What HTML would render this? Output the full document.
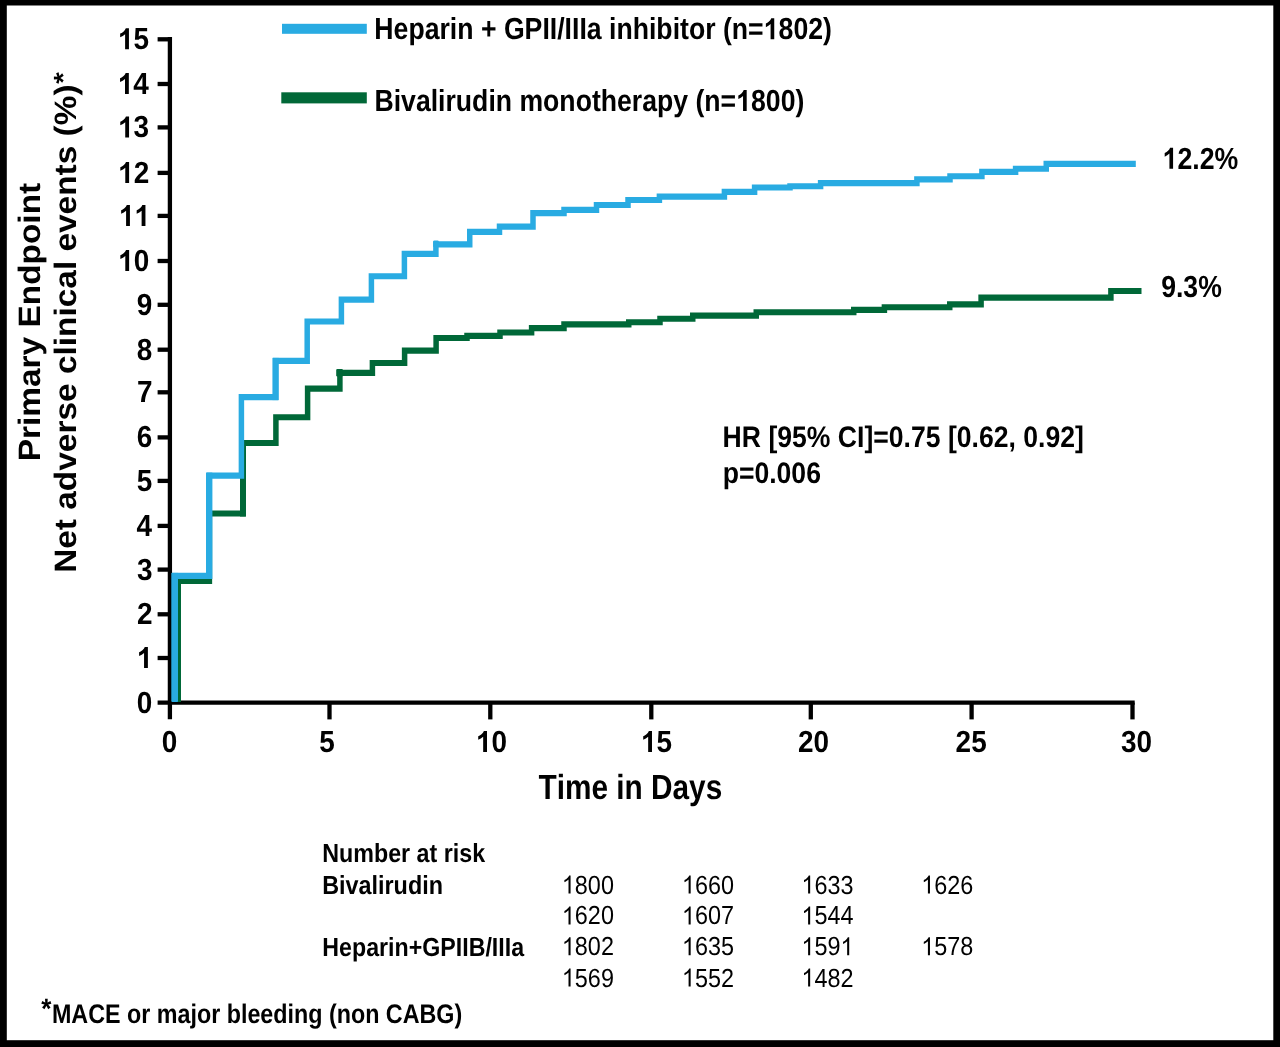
<!DOCTYPE html>
<html><head><meta charset="utf-8"><title>Primary Endpoint - Net adverse clinical events</title>
<style>
html,body{margin:0;padding:0;background:#fff;}
body{width:1280px;height:1047px;overflow:hidden;}
svg{display:block;}
svg text{font-family:"Liberation Sans",sans-serif;fill:#000;font-kerning:none;text-rendering:geometricPrecision;}
</style></head><body>
<svg width="1280" height="1047" viewBox="0 0 1280 1047">
<rect x="0" y="0" width="1280" height="1047" fill="#000"/>
<rect x="6.8" y="5.5" width="1266.50" height="1034.70" fill="#fff"/>
<g stroke="#000" stroke-width="4.30" fill="none" stroke-linecap="butt">
<path d="M169.90 37.10 V719.20"/>
<path d="M157.60 702.60 H1134.70"/>
<path d="M157.6 658.00 H170"/>
<path d="M157.6 614.30 H170"/>
<path d="M157.6 569.60 H170"/>
<path d="M157.6 525.90 H170"/>
<path d="M157.6 480.90 H170"/>
<path d="M157.6 437.40 H170"/>
<path d="M157.6 392.30 H170"/>
<path d="M157.6 349.70 H170"/>
<path d="M157.6 304.80 H170"/>
<path d="M157.6 261.00 H170"/>
<path d="M157.6 215.90 H170"/>
<path d="M157.6 172.90 H170"/>
<path d="M157.6 127.40 H170"/>
<path d="M157.6 84.00 H170"/>
<path d="M157.6 39.30 H170"/>
<path d="M329.50 702.60 V719.4"/>
<path d="M490.30 702.60 V719.4"/>
<path d="M651.30 702.60 V719.4"/>
<path d="M810.80 702.60 V719.4"/>
<path d="M971.60 702.60 V719.4"/>
<path d="M1132.50 702.60 V719.4"/>
</g>
<g transform="scale(0.900,1)" fill="none" stroke-width="6.1" stroke-linejoin="miter" stroke-linecap="butt">
<path d="M197.78 702.00 L197.78 581.00 L232.67 581.00 L232.67 513.50 L270.00 513.50 L270.00 443.00 L306.56 443.00 L306.56 417.25 L341.78 417.25 L341.78 388.60 L377.67 388.60 L377.67 372.90 L413.78 372.90 L413.78 363.00 L449.56 363.00 L449.56 350.60 L484.56 350.60 L484.56 338.00 L518.89 338.00 L518.89 335.90 L555.56 335.90 L555.56 332.50 L590.67 332.50 L590.67 328.10 L626.67 328.10 L626.67 324.40 L698.61 324.40 L698.61 322.25 L733.33 322.25 L733.33 318.75 L769.72 318.75 L769.72 315.60 L840.28 315.60 L840.28 312.20 L948.61 312.20 L948.61 309.90 L982.67 309.90 L982.67 307.25 L1055.28 307.25 L1055.28 304.40 L1090.11 304.40 L1090.11 297.60 L1234.33 297.60 L1234.33 291.00 L1268.33 291.00" stroke="#006838"/>
</g>
<rect x="175.2" y="578.1" width="5.8" height="123.5" fill="#006838"/>
<rect x="336.2" y="368.9" width="6.7" height="7.6" rx="1.2" fill="#006838"/>
<rect x="240" y="440.1" width="6" height="76.4" fill="#006838"/>
<g transform="scale(0.900,1)" fill="none" stroke-width="6.1" stroke-linejoin="miter" stroke-linecap="butt">
<path d="M194.17 702.00 L194.17 575.90 L232.67 575.90 L232.67 475.60 L268.22 475.60 L268.22 397.10 L306.22 397.10 L306.22 360.90 L341.33 360.90 L341.33 321.50 L379.33 321.50 L379.33 299.60 L412.67 299.60 L412.67 276.25 L449.33 276.25 L449.33 253.90 L484.33 253.90 L484.33 244.40 L521.94 244.40 L521.94 231.90 L555.00 231.90 L555.00 226.60 L592.22 226.60 L592.22 213.10 L626.67 213.10 L626.67 209.90 L662.78 209.90 L662.78 205.00 L697.78 205.00 L697.78 200.00 L732.67 200.00 L732.67 196.60 L804.89 196.60 L804.89 191.90 L838.44 191.90 L838.44 187.50 L877.78 187.50 L877.78 186.30 L911.78 186.30 L911.78 183.10 L1018.78 183.10 L1018.78 179.40 L1055.56 179.40 L1055.56 176.25 L1091.00 176.25 L1091.00 171.90 L1128.44 171.90 L1128.44 168.75 L1162.50 168.75 L1162.50 163.90 L1262.00 163.90" stroke="#29abe2"/>
</g>
<rect x="171.3" y="572.9" width="6.7" height="128.7" fill="#29abe2"/>
<rect x="433.2" y="240.5" width="5.6" height="6.6" rx="1.2" fill="#29abe2"/>
<rect x="206" y="472.6" width="6.3" height="106.3" fill="#29abe2"/>
<rect x="272.5" y="357.9" width="6.2" height="42.2" fill="#29abe2"/>
<g id="txt" opacity="0.999">
<rect x="282" y="23.8" width="84.8" height="10" fill="#29abe2"/>
<rect x="281.3" y="92.3" width="85.5" height="11.1" fill="#006838"/>
<g transform="translate(374.32,39.20) scale(0.8731,1)" font-size="30.52" font-weight="bold"><text x="0.000">Heparin + GPII/IIIa inhibitor (n=</text><path transform="translate(446.045,0) scale(0.01490,-0.01427)" d="M806 0H525V1059Q371 915 162 846V1101Q272 1137 401 1237.5T578 1472H806Z"/><text x="463.021">802)</text></g>
<g transform="translate(374.47,111.10) scale(0.8724,1)" font-size="30.52" font-weight="bold"><text x="0.000">Bivalirudin monotherapy (n=</text><path transform="translate(414.657,0) scale(0.01490,-0.01427)" d="M806 0H525V1059Q371 915 162 846V1101Q272 1137 401 1237.5T578 1472H806Z"/><text x="431.633">800)</text></g>
<g transform="translate(117.95,49.30) scale(0.9150,1)" font-size="30.52" font-weight="bold"><path transform="translate(0.000,0) scale(0.01490,-0.01427)" d="M806 0H525V1059Q371 915 162 846V1101Q272 1137 401 1237.5T578 1472H806Z"/><text x="16.976">5</text></g>
<g transform="translate(117.84,94.00) scale(0.9150,1)" font-size="30.52" font-weight="bold"><path transform="translate(0.000,0) scale(0.01490,-0.01427)" d="M806 0H525V1059Q371 915 162 846V1101Q272 1137 401 1237.5T578 1472H806Z"/><text x="16.976">4</text></g>
<g transform="translate(118.07,137.40) scale(0.9150,1)" font-size="30.52" font-weight="bold"><path transform="translate(0.000,0) scale(0.01490,-0.01427)" d="M806 0H525V1059Q371 915 162 846V1101Q272 1137 401 1237.5T578 1472H806Z"/><text x="16.976">3</text></g>
<g transform="translate(118.12,182.90) scale(0.9150,1)" font-size="30.52" font-weight="bold"><path transform="translate(0.000,0) scale(0.01490,-0.01427)" d="M806 0H525V1059Q371 915 162 846V1101Q272 1137 401 1237.5T578 1472H806Z"/><text x="16.976">2</text></g>
<g transform="translate(118.93,225.90) scale(0.9150,1)" font-size="30.52" font-weight="bold"><path transform="translate(0.000,0) scale(0.01490,-0.01427)" d="M806 0H525V1059Q371 915 162 846V1101Q272 1137 401 1237.5T578 1472H806Z"/><path transform="translate(16.976,0) scale(0.01490,-0.01427)" d="M806 0H525V1059Q371 915 162 846V1101Q272 1137 401 1237.5T578 1472H806Z"/></g>
<g transform="translate(118.14,271.00) scale(0.9150,1)" font-size="30.52" font-weight="bold"><path transform="translate(0.000,0) scale(0.01490,-0.01427)" d="M806 0H525V1059Q371 915 162 846V1101Q272 1137 401 1237.5T578 1472H806Z"/><text x="16.976">0</text></g>
<g transform="translate(136.77,314.80) scale(0.9150,1)" font-size="30.52" font-weight="bold"><text x="0.000">9</text></g>
<g transform="translate(136.72,359.70) scale(0.9150,1)" font-size="30.52" font-weight="bold"><text x="0.000">8</text></g>
<g transform="translate(136.90,402.30) scale(0.9150,1)" font-size="30.52" font-weight="bold"><text x="0.000">7</text></g>
<g transform="translate(136.73,447.40) scale(0.9150,1)" font-size="30.52" font-weight="bold"><text x="0.000">6</text></g>
<g transform="translate(136.69,490.90) scale(0.9150,1)" font-size="30.52" font-weight="bold"><text x="0.000">5</text></g>
<g transform="translate(136.60,535.90) scale(0.9150,1)" font-size="30.52" font-weight="bold"><text x="0.000">4</text></g>
<g transform="translate(136.92,579.60) scale(0.9150,1)" font-size="30.52" font-weight="bold"><text x="0.000">3</text></g>
<g transform="translate(136.96,624.30) scale(0.9150,1)" font-size="30.52" font-weight="bold"><text x="0.000">2</text></g>
<g transform="translate(136.90,668.00) scale(0.9150,1)" font-size="30.52" font-weight="bold"><path transform="translate(0.000,0) scale(0.01490,-0.01427)" d="M806 0H525V1059Q371 915 162 846V1101Q272 1137 401 1237.5T578 1472H806Z"/></g>
<g transform="translate(136.75,712.60) scale(0.9150,1)" font-size="30.52" font-weight="bold"><text x="0.000">0</text></g>
<g transform="translate(161.80,751.90) scale(0.9150,1)" font-size="30.52" font-weight="bold"><text x="0.000">0</text></g>
<g transform="translate(319.24,751.90) scale(0.9150,1)" font-size="30.52" font-weight="bold"><text x="0.000">5</text></g>
<g transform="translate(476.01,751.90) scale(0.9150,1)" font-size="30.52" font-weight="bold"><path transform="translate(0.000,0) scale(0.01490,-0.01427)" d="M806 0H525V1059Q371 915 162 846V1101Q272 1137 401 1237.5T578 1472H806Z"/><text x="16.976">0</text></g>
<g transform="translate(641.00,751.90) scale(0.9150,1)" font-size="30.52" font-weight="bold"><path transform="translate(0.000,0) scale(0.01490,-0.01427)" d="M806 0H525V1059Q371 915 162 846V1101Q272 1137 401 1237.5T578 1472H806Z"/><text x="16.976">5</text></g>
<g transform="translate(797.91,751.90) scale(0.9150,1)" font-size="30.52" font-weight="bold"><text x="0.000">20</text></g>
<g transform="translate(955.62,751.90) scale(0.9150,1)" font-size="30.52" font-weight="bold"><text x="0.000">25</text></g>
<g transform="translate(1120.92,751.90) scale(0.9150,1)" font-size="30.52" font-weight="bold"><text x="0.000">30</text></g>
<g transform="translate(538.47,799.40) scale(0.8508,1)" font-size="35.03" font-weight="bold"><text x="0.000">Time in Days</text></g>
<g transform="translate(40.10,461.23) rotate(-90) scale(1.0791,1)" font-size="30.96" font-weight="bold"><text x="0.000">Primary Endpoint</text></g>
<g transform="translate(75.80,572.84) rotate(-90) scale(1.0794,1)" font-size="30.96" font-weight="bold"><text x="0.000">Net adverse clinical events (%)</text></g>
<text transform="translate(72.2,83.75) rotate(-90) scale(1.12,1)" font-size="26.3" font-weight="bold">*</text>
<g transform="translate(1162.59,168.70) scale(0.8737,1)" font-size="30.52" font-weight="bold"><path transform="translate(0.000,0) scale(0.01490,-0.01427)" d="M806 0H525V1059Q371 915 162 846V1101Q272 1137 401 1237.5T578 1472H806Z"/><text x="16.976">2.2%</text></g>
<g transform="translate(1161.18,296.70) scale(0.8714,1)" font-size="30.52" font-weight="bold"><text x="0.000">9.3%</text></g>
<g transform="translate(722.62,446.90) scale(0.8968,1)" font-size="29.65" font-weight="bold"><text x="0.000">HR [95% CI]=0.75 [0.62, 0.92]</text></g>
<g transform="translate(722.65,482.50) scale(0.8968,1)" font-size="29.65" font-weight="bold"><text x="0.000">p=0.006</text></g>
<g transform="translate(322.19,862.10) scale(0.8899,1)" font-size="26.16" font-weight="bold"><text x="0.000">Number at risk</text></g>
<g transform="translate(322.19,893.50) scale(0.8932,1)" font-size="26.16" font-weight="bold"><text x="0.000">Bivalirudin</text></g>
<g transform="translate(322.35,955.60) scale(0.8869,1)" font-size="26.16" font-weight="bold"><text x="0.000">Heparin+GPIIB/IIIa</text></g>
<g transform="translate(561.85,893.60) scale(0.8945,1)" font-size="26.16" font-weight="normal"><path transform="translate(0.000,0) scale(0.01277,-0.01223)" d="M763 0H583V1147Q518 1085 412.5 1023T223 930V1104Q373 1174.5 485.25 1274.75T644 1472H763Z"/><text x="14.550">800</text></g>
<g transform="translate(681.95,893.60) scale(0.8945,1)" font-size="26.16" font-weight="normal"><path transform="translate(0.000,0) scale(0.01277,-0.01223)" d="M763 0H583V1147Q518 1085 412.5 1023T223 930V1104Q373 1174.5 485.25 1274.75T644 1472H763Z"/><text x="14.550">660</text></g>
<g transform="translate(801.45,893.60) scale(0.8945,1)" font-size="26.16" font-weight="normal"><path transform="translate(0.000,0) scale(0.01277,-0.01223)" d="M763 0H583V1147Q518 1085 412.5 1023T223 930V1104Q373 1174.5 485.25 1274.75T644 1472H763Z"/><text x="14.550">633</text></g>
<g transform="translate(921.25,893.60) scale(0.8945,1)" font-size="26.16" font-weight="normal"><path transform="translate(0.000,0) scale(0.01277,-0.01223)" d="M763 0H583V1147Q518 1085 412.5 1023T223 930V1104Q373 1174.5 485.25 1274.75T644 1472H763Z"/><text x="14.550">626</text></g>
<g transform="translate(561.85,924.40) scale(0.8945,1)" font-size="26.16" font-weight="normal"><path transform="translate(0.000,0) scale(0.01277,-0.01223)" d="M763 0H583V1147Q518 1085 412.5 1023T223 930V1104Q373 1174.5 485.25 1274.75T644 1472H763Z"/><text x="14.550">620</text></g>
<g transform="translate(681.95,924.40) scale(0.8945,1)" font-size="26.16" font-weight="normal"><path transform="translate(0.000,0) scale(0.01277,-0.01223)" d="M763 0H583V1147Q518 1085 412.5 1023T223 930V1104Q373 1174.5 485.25 1274.75T644 1472H763Z"/><text x="14.550">607</text></g>
<g transform="translate(801.45,924.40) scale(0.8945,1)" font-size="26.16" font-weight="normal"><path transform="translate(0.000,0) scale(0.01277,-0.01223)" d="M763 0H583V1147Q518 1085 412.5 1023T223 930V1104Q373 1174.5 485.25 1274.75T644 1472H763Z"/><text x="14.550">544</text></g>
<g transform="translate(561.85,955.30) scale(0.8945,1)" font-size="26.16" font-weight="normal"><path transform="translate(0.000,0) scale(0.01277,-0.01223)" d="M763 0H583V1147Q518 1085 412.5 1023T223 930V1104Q373 1174.5 485.25 1274.75T644 1472H763Z"/><text x="14.550">802</text></g>
<g transform="translate(681.95,955.30) scale(0.8945,1)" font-size="26.16" font-weight="normal"><path transform="translate(0.000,0) scale(0.01277,-0.01223)" d="M763 0H583V1147Q518 1085 412.5 1023T223 930V1104Q373 1174.5 485.25 1274.75T644 1472H763Z"/><text x="14.550">635</text></g>
<g transform="translate(801.45,955.30) scale(0.8945,1)" font-size="26.16" font-weight="normal"><path transform="translate(0.000,0) scale(0.01277,-0.01223)" d="M763 0H583V1147Q518 1085 412.5 1023T223 930V1104Q373 1174.5 485.25 1274.75T644 1472H763Z"/><text x="14.550">59</text><path transform="translate(43.651,0) scale(0.01277,-0.01223)" d="M763 0H583V1147Q518 1085 412.5 1023T223 930V1104Q373 1174.5 485.25 1274.75T644 1472H763Z"/></g>
<g transform="translate(921.25,955.30) scale(0.8945,1)" font-size="26.16" font-weight="normal"><path transform="translate(0.000,0) scale(0.01277,-0.01223)" d="M763 0H583V1147Q518 1085 412.5 1023T223 930V1104Q373 1174.5 485.25 1274.75T644 1472H763Z"/><text x="14.550">578</text></g>
<g transform="translate(561.85,986.50) scale(0.8945,1)" font-size="26.16" font-weight="normal"><path transform="translate(0.000,0) scale(0.01277,-0.01223)" d="M763 0H583V1147Q518 1085 412.5 1023T223 930V1104Q373 1174.5 485.25 1274.75T644 1472H763Z"/><text x="14.550">569</text></g>
<g transform="translate(681.95,986.50) scale(0.8945,1)" font-size="26.16" font-weight="normal"><path transform="translate(0.000,0) scale(0.01277,-0.01223)" d="M763 0H583V1147Q518 1085 412.5 1023T223 930V1104Q373 1174.5 485.25 1274.75T644 1472H763Z"/><text x="14.550">552</text></g>
<g transform="translate(801.45,986.50) scale(0.8945,1)" font-size="26.16" font-weight="normal"><path transform="translate(0.000,0) scale(0.01277,-0.01223)" d="M763 0H583V1147Q518 1085 412.5 1023T223 930V1104Q373 1174.5 485.25 1274.75T644 1472H763Z"/><text x="14.550">482</text></g>
<g transform="translate(51.94,1022.90) scale(0.8668,1)" font-size="26.89" font-weight="bold"><text x="0.000">MACE or major bleeding (non CABG)</text></g>
<text transform="translate(41.2,1018.3) scale(0.93,1)" font-size="28" font-weight="bold">*</text>
</g>
</svg>
</body></html>
